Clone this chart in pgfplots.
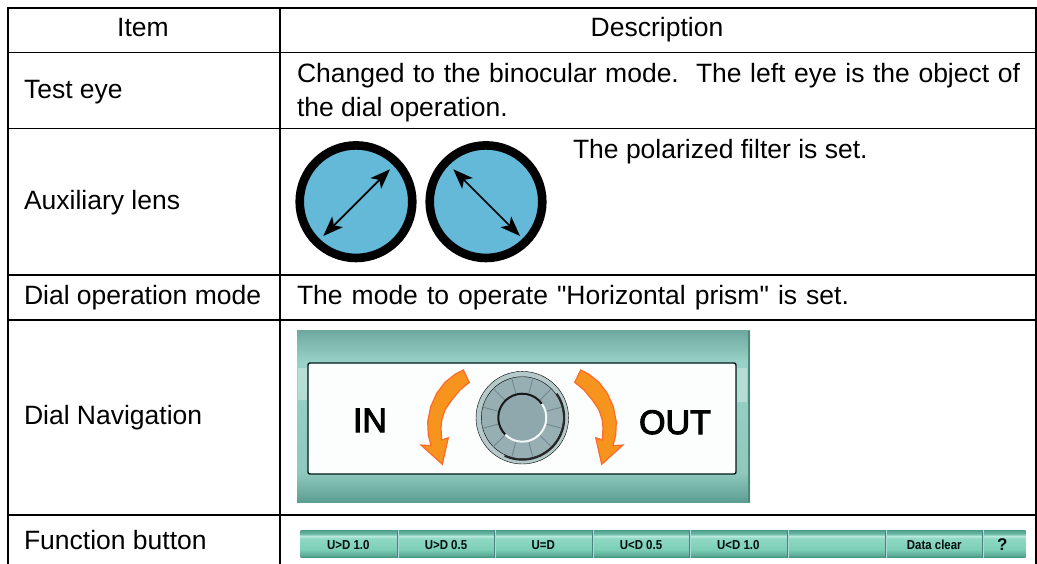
\documentclass[border=0pt]{standalone}
\usepackage{fontspec}
\setmainfont{Liberation Sans}
\newfontfamily\plainf{Liberation Sans}
\newfontfamily\semib[FakeBold=3]{Liberation Sans}
\newfontfamily\btnf[FakeStretch=0.88]{Liberation Sans Bold}
\usepackage{pgfplots}
\pgfplotsset{compat=1.18}
\usetikzlibrary{arrows.meta}
\definecolor{lens}{HTML}{64B8D8}
\definecolor{orfill}{HTML}{F7941D}
\definecolor{oredge}{HTML}{FF6A2A}
\definecolor{dialrim}{HTML}{B5C8CA}
\definecolor{dialmid}{HTML}{97AEB3}
\definecolor{dialface}{HTML}{8FA8AE}
\definecolor{dialtick}{HTML}{6E858B}
\definecolor{panelA}{HTML}{5C9E93}\definecolor{panelB}{HTML}{8FC9BD}\definecolor{panelC}{HTML}{98D2C6}\definecolor{panelD}{HTML}{6FA9A0}
\definecolor{btnA}{HTML}{3F8F7C}\definecolor{btnB}{HTML}{5FAF98}\definecolor{btnC}{HTML}{7CCFB6}\definecolor{btnD}{HTML}{8FD8C3}\definecolor{btnE}{HTML}{BDEBDD}\definecolor{btnF}{HTML}{6ABAA5}\definecolor{btnG}{HTML}{4E9A88}
\pgfdeclareverticalshading{panelshade}{100bp}{color(0bp)=(panelA);
 color(25bp)=(panelA); color(33.5bp)=(panelB); color(66bp)=(panelC); color(75bp)=(panelD); color(100bp)=(panelD)}
\pgfdeclareverticalshading{btnshade}{100bp}{color(0bp)=(btnA);
 color(25bp)=(btnA); color(30bp)=(btnB); color(40bp)=(btnC); color(60bp)=(btnD); color(64bp)=(btnE); color(68bp)=(btnF); color(75bp)=(btnG); color(100bp)=(btnG)}
\newcommand{\hl}[3]{\addplot[black,line width=#3pt,forget plot] coordinates {(#1) (#2)};}
\tikzset{
 tl/.style={inner sep=0pt, outer sep=0pt, font=\fontsize{26.5}{30}\selectfont, anchor=base west},
 tc/.style={inner sep=0pt, outer sep=0pt, font=\fontsize{26.5}{30}\selectfont, anchor=base},
 big/.style={inner sep=0pt, outer sep=0pt, anchor=base, font=\fontsize{34}{36}\selectfont\semib},
 btn/.style={inner sep=0pt, outer sep=0pt, anchor=base, text=black!90!teal, font=\fontsize{13}{15}\selectfont\btnf},
}
\begin{document}
\begin{tikzpicture}
\begin{axis}[
  scale only axis, width=1037pt, height=564pt,
  xmin=0, xmax=1037, ymin=0, ymax=564, y dir=reverse,
  axis line style={draw=none}, ticks=none, clip=true, clip marker paths=true,
]
% grid
\hl{7,7.7}{1036.5,7.7}{2}
\hl{7,52.5}{1036.5,52.5}{1.8}
\hl{7,128.5}{1036.5,128.5}{1.8}
\hl{7,275}{1036.5,275}{1.8}
\hl{7,320}{1036.5,320}{1.8}
\hl{7,515}{1036.5,515}{1.8}
\hl{8,7}{8,564}{2}
\hl{280,7}{280,564}{1.8}
\hl{1036,7}{1036,564}{2}
% text
\node[tc] at (axis cs:143,36.5) {Item};
\node[tc] at (axis cs:657,36.5) {Description};
\node[tl] at (axis cs:24,98.5) {Test eye};
\node[tl] at (axis cs:24,209.5) {Auxiliary lens};
\node[tl] at (axis cs:24,304.5) {Dial operation mode};
\node[tl] at (axis cs:24,424.5) {Dial Navigation};
\node[tl] at (axis cs:24,549) {Function button};
\node[tl] at (axis cs:297,82.5) {\makebox[723pt][s]{Changed to the binocular mode.\ \ The left eye is the object of}};
\node[tl] at (axis cs:297,116.5) {the dial operation.};
\node[tl] at (axis cs:573,158.5) {The polarized filter is set.};
\node[tl] at (axis cs:297,304.5) {\plainf\makebox[552pt][s]{The mode to operate "Horizontal prism" is set.}};
% lenses
\addplot[only marks, mark=*, mark size=56.3pt, mark options={fill=lens, draw=black, line width=8.6pt}, forget plot] coordinates {(356,201.7) (486,201.7)};
\addplot[black, line width=1.7pt, {Stealth[length=20pt,width=15pt,inset=5pt]}-{Stealth[length=20pt,width=15pt,inset=5pt]}, forget plot] coordinates {(323.3,236) (390,169.3)};
\addplot[black, line width=1.7pt, {Stealth[length=20pt,width=15pt,inset=5pt]}-{Stealth[length=20pt,width=15pt,inset=5pt]}, forget plot] coordinates {(453.3,169.3) (520,236)};
% navigation panel
\addplot[draw=none, shading=panelshade, forget plot] coordinates {(297,331) (750,331) (750,502) (297,502)} --cycle;
\addplot[draw=none, fill=white, fill opacity=0.3, forget plot] coordinates {(298,368) (307,368) (307,400) (298,400)} --cycle;
\addplot[draw=none, fill=white, fill opacity=0.3, forget plot] coordinates {(737,368) (747,368) (747,402) (737,402)} --cycle;
\addplot[color=panelA!85!black, line width=1.6pt, forget plot] coordinates {(749,331) (749,502)};
\addplot[fill=white!97!panelB, draw=black!80!teal, line width=1.4pt, rounded corners=2pt, forget plot] coordinates {(308,363) (736,363) (736,474) (308,474)} --cycle;
% orange arrows
\addplot[fill=orfill, draw=oredge, line width=1.2pt, forget plot] coordinates {(463.3,370) (455,374.3) (445,382.3) (436.7,393.3) (430.7,406.7) (427.7,421.7) (428.3,435) (431,445.7) (421,445) (442.3,464.3) (448.3,437.7) (441.7,440) (441,428.3) (441.7,420) (445,410) (451.7,400) (460,390) (469.3,382.3)} --cycle;
\addplot[fill=orfill, draw=oredge, line width=1.2pt, forget plot] coordinates {(580.7,370) (589,374.3) (599,382.3) (607.3,393.3) (613.3,406.7) (616.3,421.7) (615.7,435) (613,445.7) (623,445) (601.7,464.3) (595.7,437.7) (602.3,440) (603,428.3) (602.3,420) (599,410) (592.3,400) (584,390) (574.7,382.3)} --cycle;
% dial
\addplot[only marks, mark=*, mark size=46.3pt, mark options={fill=dialrim, draw=none}, forget plot] coordinates {(522.3,417.7)};
\addplot[only marks, mark=*, mark size=41pt, mark options={fill=dialmid, draw=none}, forget plot] coordinates {(522.3,417.7)};
\addplot[only marks, mark=*, mark size=24pt, mark options={fill=dialface, draw=none}, forget plot] coordinates {(522.3,417.7)};
\pgfplotsinvokeforeach{15,45,75,105,135,165,195,225,255,285,315,345}{
  \draw[dialtick, line width=0.8pt] (axis cs:522.3,417.7) ++(#1:25) -- ++(#1:16);
}
\draw[black!85, line width=2pt] (axis cs:522.3,417.7) ++(115:42) arc[start angle=115, end angle=-35, radius=42];
\draw[black!90, line width=2pt] (axis cs:522.3,417.7) ++(-35:24) arc[start angle=-35, end angle=-225, radius=24];
\draw[white!90!dialface, line width=2pt] (axis cs:522.3,417.7) ++(-225:24) arc[start angle=-225, end angle=-395, radius=24];
\node[big] at (axis cs:370,432) {IN};
\node[big] at (axis cs:675,434) {OUT};
% buttons
\addplot[draw=none, shading=btnshade, forget plot] coordinates {(300.7,530) (1025.7,530) (1025.7,557.7) (300.7,557.7)} --cycle;
\pgfplotsinvokeforeach{397.2,494.5,592.8,689.5,787.8,885.5,982.2}{
  \addplot[color=black!40!teal!70!white, line width=0.7pt, forget plot] coordinates {(#1,530) (#1,557.7)};
}
\pgfplotsinvokeforeach{398,495.3,593.6,690.3,788.6,886.3,983}{
  \addplot[color=white!70!teal, line width=0.7pt, forget plot] coordinates {(#1,530) (#1,557.7)};
}
\node[btn] at (axis cs:348.3,549) {U>D 1.0};
\node[btn] at (axis cs:446,549) {U>D 0.5};
\node[btn] at (axis cs:543.3,549) {U=D};
\node[btn] at (axis cs:641,549) {U<D 0.5};
\node[btn] at (axis cs:738.3,549) {U<D 1.0};
\node[btn] at (axis cs:934.3,549) {Data clear};
\node[btn, font=\fontsize{17}{18}\selectfont\bfseries] at (axis cs:1002.3,550.5) {?};
\end{axis}
\end{tikzpicture}
\end{document}
